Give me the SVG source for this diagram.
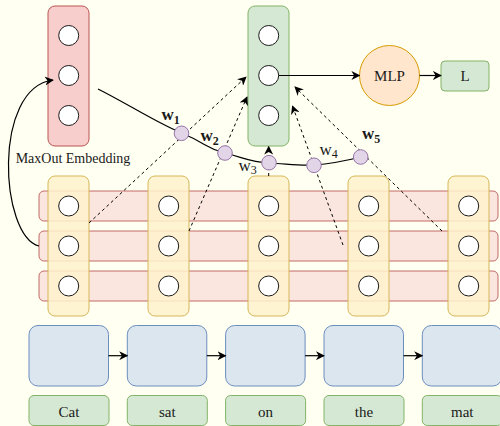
<svg xmlns="http://www.w3.org/2000/svg" width="500" height="426" viewBox="0 0 500 426">
  <defs>
    <style>
      .txt { font-family: "Liberation Serif", "Times New Roman", serif; fill: #1a1a1a; }
      .unit { fill: #ffffff; stroke: #1a1a1a; stroke-width: 1; }
      .emb { fill: #f8cecc; stroke: #b85450; stroke-width: 1; }
      .ctx { fill: #d5e8d4; stroke: #82b366; stroke-width: 1; }
      .row { fill: #f8cecc; fill-opacity: 0.5; stroke: #b85450; stroke-opacity: 0.85; stroke-width: 1; }
      .col { fill: #fff2cc; fill-opacity: 0.85; stroke: #d6b656; stroke-width: 1; }
      .rnn { fill: #dce6ee; stroke: #6c8ebf; stroke-width: 1; }
      .word { fill: #d5e8d4; stroke: #82b366; stroke-width: 1; }
      .wt { fill: #e1d5e7; stroke: #9673a6; stroke-width: 1; }
      .solid { fill: none; stroke: #000; stroke-width: 1.2; }
      .dash { fill: none; stroke: #000; stroke-width: 1; stroke-dasharray: 3 3; }
    </style>
    <marker id="arrow" viewBox="0 0 10 10" refX="9" refY="5" markerWidth="9" markerHeight="9" markerUnits="userSpaceOnUse" orient="auto">
      <path d="M0,0 L10,5 L0,10 L3,5 z" fill="#000"/>
    </marker>
  </defs>

  <rect width="500" height="426" fill="#fffff2"/>

  <!-- MaxOut embedding column -->
  <g id="embedding">
    <rect class="emb" x="48" y="6" width="41" height="140" rx="7"/>
    <circle class="unit" cx="68.7" cy="35.5" r="10"/>
    <circle class="unit" cx="68.7" cy="75.5" r="10"/>
    <circle class="unit" cx="68.7" cy="115.5" r="10"/>
    <text class="txt" x="73" y="163" font-size="14" text-anchor="middle">MaxOut Embedding</text>
  </g>

  <!-- context vector -->
  <g id="context">
    <rect class="ctx" x="248" y="6" width="41" height="140" rx="7"/>
    <circle class="unit" cx="268.7" cy="35.5" r="10"/>
    <circle class="unit" cx="268.7" cy="75.5" r="10"/>
    <circle class="unit" cx="268.7" cy="115.5" r="10"/>
  </g>

  <g id="mlp">
    <circle cx="389.5" cy="75.5" r="30" fill="#ffe6cc" stroke="#d79b00" stroke-width="1"/>
    <text class="txt" x="389.5" y="81" font-size="15" text-anchor="middle">MLP</text>
  </g>

  <g id="loss">
    <rect class="ctx" x="441" y="61" width="48" height="30" rx="4"/>
    <text class="txt" x="465" y="81" font-size="15" text-anchor="middle">L</text>
  </g>

  <!-- feature rows -->
  <g id="rows">
    <rect class="row" x="39" y="191" width="459" height="30" rx="5"/>
    <rect class="row" x="39" y="231" width="459" height="30" rx="5"/>
    <rect class="row" x="39" y="271" width="459" height="30" rx="5"/>
  </g>

  <!-- per-word hidden columns -->
  <g id="col-cat">
    <rect class="col" x="48" y="176" width="41" height="140" rx="7"/>
    <circle class="unit" cx="68.7" cy="206" r="10"/>
    <circle class="unit" cx="68.7" cy="246" r="10"/>
    <circle class="unit" cx="68.7" cy="286" r="10"/>
  </g>
  <g id="col-sat">
    <rect class="col" x="148" y="176" width="41" height="140" rx="7"/>
    <circle class="unit" cx="168.7" cy="206" r="10"/>
    <circle class="unit" cx="168.7" cy="246" r="10"/>
    <circle class="unit" cx="168.7" cy="286" r="10"/>
  </g>
  <g id="col-on">
    <rect class="col" x="248" y="176" width="41" height="140" rx="7"/>
    <circle class="unit" cx="268.7" cy="206" r="10"/>
    <circle class="unit" cx="268.7" cy="246" r="10"/>
    <circle class="unit" cx="268.7" cy="286" r="10"/>
  </g>
  <g id="col-the">
    <rect class="col" x="348" y="176" width="41" height="140" rx="7"/>
    <circle class="unit" cx="368.7" cy="206" r="10"/>
    <circle class="unit" cx="368.7" cy="246" r="10"/>
    <circle class="unit" cx="368.7" cy="286" r="10"/>
  </g>
  <g id="col-mat">
    <rect class="col" x="448" y="176" width="41" height="140" rx="7"/>
    <circle class="unit" cx="468.7" cy="206" r="10"/>
    <circle class="unit" cx="468.7" cy="246" r="10"/>
    <circle class="unit" cx="468.7" cy="286" r="10"/>
  </g>

  <!-- recurrent cells -->
  <g id="rnn-1"><rect class="rnn" x="29" y="325.5" width="79.5" height="60.5" rx="9"/></g>
  <g id="rnn-2"><rect class="rnn" x="127.3" y="325.5" width="79.5" height="60.5" rx="9"/></g>
  <g id="rnn-3"><rect class="rnn" x="225.6" y="325.5" width="79.5" height="60.5" rx="9"/></g>
  <g id="rnn-4"><rect class="rnn" x="324" y="325.5" width="79.5" height="60.5" rx="9"/></g>
  <g id="rnn-5"><rect class="rnn" x="422.3" y="325.5" width="79.5" height="60.5" rx="9"/></g>

  <!-- input words -->
  <g id="word-cat"><rect class="word" x="29" y="395.5" width="80" height="30" rx="5"/><text class="txt" x="69" y="416.5" font-size="15" text-anchor="middle">Cat</text></g>
  <g id="word-sat"><rect class="word" x="127.3" y="395.5" width="80" height="30" rx="5"/><text class="txt" x="167.3" y="416.5" font-size="15" text-anchor="middle">sat</text></g>
  <g id="word-on"><rect class="word" x="225.6" y="395.5" width="80" height="30" rx="5"/><text class="txt" x="265.6" y="416.5" font-size="15" text-anchor="middle">on</text></g>
  <g id="word-the"><rect class="word" x="324" y="395.5" width="80" height="30" rx="5"/><text class="txt" x="364" y="416.5" font-size="15" text-anchor="middle">the</text></g>
  <g id="word-mat"><rect class="word" x="422.3" y="395.5" width="80" height="30" rx="5"/><text class="txt" x="462.3" y="416.5" font-size="15" text-anchor="middle">mat</text></g>

  <!-- connectors -->
  <g id="connectors">
    <path class="solid" d="M108.5,355.7 L127.3,355.7" marker-end="url(#arrow)"/>
    <path class="solid" d="M206.8,355.7 L225.6,355.7" marker-end="url(#arrow)"/>
    <path class="solid" d="M305.1,355.7 L324,355.7" marker-end="url(#arrow)"/>
    <path class="solid" d="M403.5,355.7 L422.3,355.7" marker-end="url(#arrow)"/>

    <path class="solid" d="M278.7,75.5 L359.5,75.5" marker-end="url(#arrow)"/>
    <path class="solid" d="M419.5,75.5 L441,75.5" marker-end="url(#arrow)"/>

    <path class="solid" d="M39,246 C0,236 -8,88 53,80" marker-end="url(#arrow)"/>

    <path class="solid" d="M98,89 C128,104 155,122 181.5,133 S205,148 225,153 S250,162 269,163 S300,166 314,165 S345,161 361,157"/>

    <path class="dash" d="M89,223 L246,77" marker-end="url(#arrow)"/>
    <path class="dash" d="M189,231 L247,97" marker-end="url(#arrow)"/>
    <path class="dash" d="M268.7,176 L268.7,146.5" marker-end="url(#arrow)"/>
    <path class="dash" d="M343,245 L292.5,106" marker-end="url(#arrow)"/>
    <path class="dash" d="M442,231 L295,87" marker-end="url(#arrow)"/>
  </g>

  <!-- attention weights -->
  <g id="w1"><circle class="wt" cx="181.5" cy="133.3" r="7.3"/><text class="txt" x="161.5" y="120" font-size="17" font-weight="bold">w<tspan font-size="12" dy="4">1</tspan></text></g>
  <g id="w2"><circle class="wt" cx="225" cy="153" r="7.3"/><text class="txt" x="200.5" y="140.5" font-size="17" font-weight="bold">w<tspan font-size="12" dy="4">2</tspan></text></g>
  <g id="w3"><circle class="wt" cx="269" cy="162.7" r="7.3"/><text class="txt" x="238.5" y="171" font-size="17">w<tspan font-size="12" dy="3">3</tspan></text></g>
  <g id="w4"><circle class="wt" cx="314" cy="165.3" r="7.3"/><text class="txt" x="319.5" y="154.5" font-size="17">w<tspan font-size="12" dy="3">4</tspan></text></g>
  <g id="w5"><circle class="wt" cx="360.7" cy="157" r="7.3"/><text class="txt" x="362" y="138.5" font-size="17" font-weight="bold">w<tspan font-size="12" dy="4">5</tspan></text></g>
</svg>
